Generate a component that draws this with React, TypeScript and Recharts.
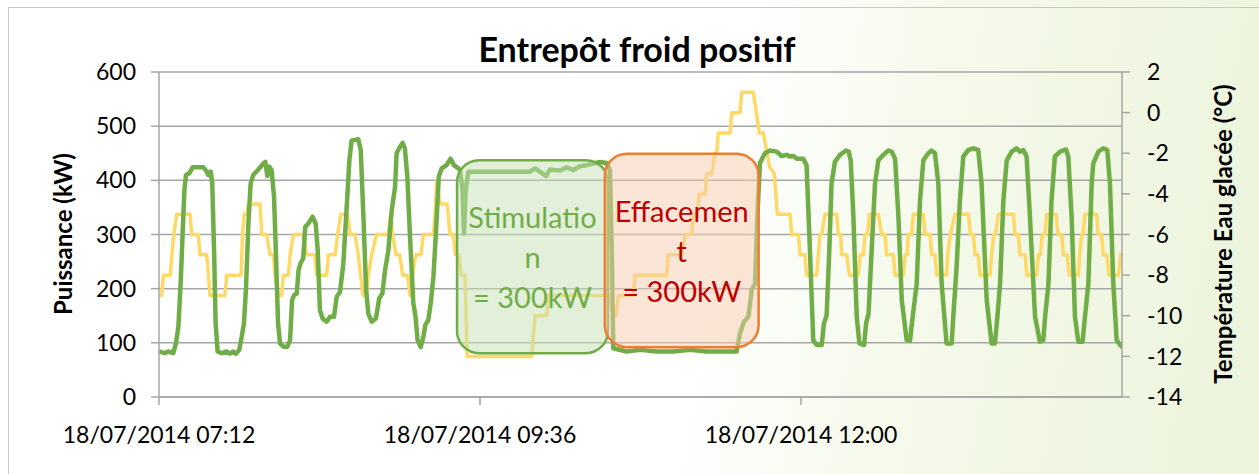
import { LineChart, Line, XAxis, YAxis, CartesianGrid, ReferenceArea } from 'recharts';

// x = minutes since 18/07/2014 07:12
const xTicks = [0, 144, 288];
const xTickLabels = ['18/07/2014 07:12', '18/07/2014 09:36', '18/07/2014 12:00'];
const puissanceTicks = [0, 100, 200, 300, 400, 500, 600];
const temperatureTicks = [-14, -12, -10, -8, -6, -4, -2, 0, 2];

// Puissance (kW)
const puissance: [number, number][] = [
  [0, 84], [2.7, 81], [4.2, 84], [6.4, 81], [7.6, 99], [8.7, 130], [9.7, 209], [10.6, 302], [11.4, 382],
  [12.1, 410], [13.6, 413], [15.1, 424], [19.9, 424], [21.1, 418], [22.1, 410], [23.2, 416], [23.9, 394],
  [24.7, 271], [25.4, 136], [26.3, 84], [28.1, 81], [30.3, 84], [31.8, 80], [33.3, 84], [34.5, 80],
  [36.0, 87], [37.1, 111], [38.1, 136], [39.0, 198], [40.1, 320], [41.1, 394], [42.3, 410], [44.6, 420],
  [46.8, 431], [47.7, 434], [48.6, 408], [49.5, 425], [50.5, 419], [51.6, 370], [52.5, 259], [53.4, 136],
  [54.3, 99], [55.8, 93], [57.6, 93], [58.8, 105], [59.7, 179], [60.6, 188], [61.8, 191], [62.6, 234],
  [63.5, 247], [64.7, 256], [65.6, 314], [67.0, 320], [68.9, 333], [70.3, 320], [71.2, 271], [72.2, 160],
  [73.4, 145], [75.2, 139], [76.7, 148], [78.5, 148], [79.7, 185], [81.2, 194], [82.7, 247], [84.2, 351],
  [85.4, 437], [86.4, 473], [89.4, 476], [90.5, 456], [91.7, 333], [92.9, 198], [93.9, 154], [95.4, 139],
  [97.3, 145], [98.8, 182], [100.2, 191], [101.4, 234], [102.9, 271], [104.4, 345], [105.9, 388],
  [106.6, 450], [108.1, 462], [109.3, 469], [110.3, 459], [111.4, 407], [112.6, 296], [114.1, 173],
  [115.1, 148], [116.0, 105], [117.4, 92], [118.6, 111], [119.5, 133], [120.8, 142], [121.9, 173],
  [123.1, 222], [124.3, 308], [125.5, 407], [126.8, 422], [129.0, 428], [130.8, 440], [132.3, 428],
  [134.3, 422], [135.0, 419], [136.2, 382], [136.8, 302], [137.6, 382], [138.8, 416], [166.4, 416],
  [168.7, 422], [170.9, 416], [173.6, 408], [175.4, 420], [179.9, 418], [182.9, 424], [185.9, 419],
  [188.9, 426], [191.9, 428], [194.8, 431], [197.8, 434], [200.8, 432], [202.3, 419], [203.1, 271],
  [203.8, 90], [209.8, 84], [215.8, 87], [223.3, 84], [230.7, 84], [238.2, 87], [245.7, 84], [259.1, 84],
  [260.6, 117], [262.4, 139], [264.4, 148], [265.9, 198], [267.4, 209], [268.4, 333], [269.6, 432],
  [271.8, 450], [274.1, 455], [277.1, 453], [279.3, 445], [281.6, 447], [283.1, 444], [284.6, 445],
  [286.0, 440], [289.0, 440], [290.5, 428], [292.0, 271], [293.5, 105], [295.0, 96], [297.3, 96],
  [298.3, 136], [299.5, 151], [300.7, 271], [301.7, 394], [303.2, 434], [305.5, 447], [308.2, 455],
  [309.4, 453], [310.3, 437], [311.5, 333], [313.0, 148], [314.2, 99], [316.3, 96], [317.2, 136],
  [318.3, 154], [319.7, 271], [321.2, 394], [322.7, 437], [324.9, 447], [327.2, 455], [328.7, 453],
  [330.2, 440], [331.7, 333], [333.2, 179], [335.4, 105], [336.9, 104], [338.1, 148], [339.9, 209],
  [341.4, 364], [342.9, 437], [345.1, 450], [346.6, 455], [348.1, 450], [349.6, 394], [351.1, 209],
  [353.3, 99], [355.6, 99], [356.3, 148], [357.8, 240], [359.3, 364], [360.8, 444], [363.1, 456],
  [365.3, 459], [367.5, 456], [369.0, 394], [371.3, 179], [373.5, 99], [375.0, 99], [376.1, 148],
  [377.3, 209], [378.8, 364], [380.3, 437], [382.5, 453], [384.7, 459], [386.2, 453], [387.7, 456],
  [389.2, 444], [390.7, 333], [393.0, 148], [395.2, 102], [396.7, 105], [397.5, 148], [399.0, 209],
  [400.4, 364], [401.9, 444], [404.2, 453], [406.9, 457], [407.9, 444], [409.4, 333], [410.9, 148],
  [412.4, 102], [414.3, 102], [415.4, 148], [416.9, 209], [418.4, 394], [419.1, 431], [421.4, 453],
  [423.6, 459], [425.4, 456], [426.6, 394], [428.1, 209], [429.6, 105], [431.8, 93], [432, 96],
];

// Température eau glacée (°C)
const temperature: [number, number][] = [
  [0, -9], [1.2, -9], [1.95, -8], [5.0, -8], [5.8, -7], [6.6, -6], [8.0, -5], [13.9, -5], [14.7, -6],
  [17.6, -6], [18.4, -7], [21.4, -7], [22.9, -9], [29.6, -9], [30.4, -8], [36.8, -8], [37.5, -6],
  [38.2, -5], [39.3, -5], [40.1, -4.5], [45.3, -4.5], [46.1, -6], [48.3, -6], [49.8, -7], [51.3, -7],
  [52.0, -8], [53.5, -9], [55.0, -9], [55.8, -8], [58.0, -8], [58.8, -7], [60.3, -6], [64.7, -6],
  [66.3, -7], [70.0, -7], [70.7, -8], [75.2, -8], [76.0, -7], [79.0, -7], [80.1, -6], [81.6, -5],
  [84.6, -5], [85.7, -6], [87.9, -6], [89.4, -7], [90.4, -8], [91.6, -9], [93.2, -9], [93.9, -8],
  [95.4, -7], [97.6, -6], [102.9, -6], [103.9, -5], [104.8, -6], [106.3, -7], [108.0, -7], [109.3, -8],
  [111.5, -8], [112.6, -9], [113.8, -8], [115.2, -7], [117.5, -7], [118.6, -6], [123.1, -6], [123.8, -5],
  [124.6, -3.4], [126.1, -4.5], [129.3, -4.5], [130.5, -6], [132.0, -6], [133.0, -7], [134.5, -7],
  [135.5, -8], [137.3, -8], [138.2, -12], [167.2, -12], [168.7, -10], [173.9, -10], [174.7, -9],
  [202.3, -9], [203.8, -10], [205.0, -10], [206.1, -9], [212.8, -9], [213.5, -8], [227.7, -8],
  [228.5, -7], [234.5, -7], [236.0, -6], [239.0, -6], [239.7, -5], [241.3, -5], [242.4, -4], [245.0, -4],
  [245.7, -3], [248.0, -3], [249.4, -2], [250.2, -2], [250.9, -1], [256.2, -1], [256.9, 0], [260.6, 0],
  [261.4, 1], [266.6, 1], [269.3, -1], [271.1, -1], [274.0, -2.7], [276.0, -3], [277.4, -5], [283.1, -5],
  [283.8, -6], [286.8, -6], [287.6, -7], [289.8, -7], [290.5, -8], [295.0, -8], [295.8, -7], [296.5, -6],
  [297.3, -6], [298.8, -5], [304.0, -5], [304.7, -6], [305.8, -6], [306.2, -7], [308.5, -7], [309.7, -8],
  [313.7, -8], [314.5, -7], [316.0, -7], [316.7, -6], [317.8, -6], [318.7, -5], [322.7, -5], [324.2, -6],
  [325.7, -6], [326.4, -7], [329.4, -7], [330.2, -8], [333.9, -8], [334.7, -7], [335.7, -7], [336.1, -6],
  [337.6, -6], [338.4, -5], [342.9, -5], [343.6, -6], [345.9, -6], [346.6, -7], [348.1, -7], [348.9, -8],
  [353.3, -8], [353.8, -7], [355.0, -6], [357.1, -5], [363.1, -5], [364.0, -6], [365.3, -6], [366.1, -7],
  [367.5, -7], [368.3, -8], [372.8, -8], [373.5, -7], [374.5, -6], [375.3, -6], [376.5, -5], [383.3, -5],
  [384.0, -6], [385.5, -6], [386.2, -7], [388.5, -7], [389.3, -8], [393.7, -8], [394.5, -7], [395.4, -7],
  [396.2, -6], [397.5, -6], [398.2, -5], [402.4, -5], [403.3, -6], [404.9, -6], [405.7, -7], [407.4, -7],
  [408.4, -8], [412.4, -8], [413.0, -7], [413.9, -6], [414.5, -6], [415.4, -5], [420.6, -5], [421.3, -6],
  [422.8, -6], [423.6, -7], [425.2, -7], [426.2, -8], [430.4, -8], [431.4, -7], [432, -7],
];

// annotation boxes, in data units (minutes, kW)
const stimulation = { x1: 133.7, x2: 201.4, y1: 81, y2: 437, lines: ['Stimulatio', 'n', '= 300kW'] };
const effacement = { x1: 200, x2: 269, y1: 92, y2: 449, lines: ['Effacemen', 't', '= 300kW'] };

const puissanceData = puissance.map(([t, kw]) => ({ t, kw }));
const temperatureData = temperature.map(([t, c]) => ({ t, c }));

const FONT = 'Lato, "Open Sans", sans-serif';
const GRID = '#a6a6a6';

function AnnotationBox(props: any) {
  const { x, y, width, height, lines, fill, stroke, textColor } = props;
  const cx = x + width / 2;
  const cy = y + height / 2;
  return (
    <g>
      <rect x={x} y={y} width={width} height={height} rx={22} ry={22}
        fill={fill} fillOpacity={0.5} stroke={stroke} strokeWidth={2.5} />
      {lines.map((l: string, i: number) => (
        <text key={i} x={cx} y={cy + (i - 1) * 40} textAnchor="middle" dominantBaseline="central"
          fill={textColor} fontSize={29} fontFamily={FONT}>{l}</text>
      ))}
    </g>
  );
}

function AxisTitle({ viewBox, text, dx }: any) {
  if (!viewBox) return null;
  const x = viewBox.x + dx;
  const y = 234;
  return (
    <text x={x} y={y} transform={`rotate(-90, ${x}, ${y})`} textAnchor="middle" dominantBaseline="central"
      fontSize={24} fontWeight="bold" fontFamily={FONT} fill="#000">{text}</text>
  );
}

export default function App() {
  return (
    <div style={{
      position: 'absolute', left: 0, top: 0, width: 1259, height: 474, overflow: 'hidden',
      background: 'linear-gradient(100deg, #ffffff 0%, #ffffff 56%, #f7fbef 68%, #f1f7e4 82%, #ecf4dc 100%)',
      fontFamily: FONT,
    }}>
      <div style={{ position: 'absolute', left: 8, top: 7, right: -2, bottom: -2, borderLeft: '1px solid #c8c8c8', borderTop: '1px solid #c8c8c8' }} />
      <div style={{ position: 'absolute', left: 0, width: 1274, top: 28, textAlign: 'center', fontSize: 34, fontWeight: 'bold', color: '#000' }}>
        Entrepôt froid positif
      </div>
      <div style={{ position: 'absolute', left: 0, top: 0 }}>
        <LineChart width={1259} height={474} margin={{ top: 72, right: 0, bottom: 0, left: 0 }}>
          <CartesianGrid yAxisId="left" vertical={false} stroke={GRID} strokeWidth={1.5} />
          <XAxis dataKey="t" type="number" domain={[0, 432]} ticks={xTicks} allowDataOverflow
            tickFormatter={(v: number) => xTickLabels[xTicks.indexOf(v)] ?? ''}
            height={77} stroke={GRID} strokeWidth={1.5} tickSize={8} tickMargin={22}
            tick={{ fill: '#000', fontSize: 23, fontFamily: FONT }} />
          <YAxis yAxisId="left" orientation="left" domain={[0, 600]} ticks={puissanceTicks} width={159}
            stroke={GRID} strokeWidth={1.5} tickSize={8} tickMargin={15} interval={0}
            tick={{ fill: '#000', fontSize: 23, fontFamily: FONT }}
            label={(p: any) => <AxisTitle {...p} text="Puissance (kW)" dx={62} />} />
          <YAxis yAxisId="right" orientation="right" domain={[-14, 2]} ticks={temperatureTicks} width={137}
            stroke={GRID} strokeWidth={1.5} tickSize={8} tickMargin={17} interval={0}
            tick={{ fill: '#000', fontSize: 23, fontFamily: FONT, textAnchor: 'start' }}
            label={(p: any) => <AxisTitle {...p} text="Température Eau glacée (°C)" dx={100} />} />
          <Line yAxisId="right" data={temperatureData} dataKey="c" type="linear" stroke="#FFD966"
            strokeWidth={3.5} dot={false} activeDot={false} isAnimationActive={false} strokeLinejoin="round" />
          <Line yAxisId="left" data={puissanceData} dataKey="kw" type="linear" stroke="#70AD47"
            strokeWidth={4.5} dot={false} activeDot={false} isAnimationActive={false} strokeLinejoin="round" />
          <ReferenceArea yAxisId="left" x1={stimulation.x1} x2={stimulation.x2} y1={stimulation.y1} y2={stimulation.y2}
            ifOverflow="visible" zIndex={900}
            shape={(p: any) => <AnnotationBox {...p} lines={stimulation.lines} fill="#C5E0B4" stroke="#70AD47" textColor="#70AD47" />} />
          <ReferenceArea yAxisId="left" x1={effacement.x1} x2={effacement.x2} y1={effacement.y1} y2={effacement.y2}
            ifOverflow="visible" zIndex={900}
            shape={(p: any) => <AnnotationBox {...p} lines={effacement.lines} fill="#F8CBAD" stroke="#ED7D31" textColor="#C00000" />} />
        </LineChart>
      </div>
    </div>
  );
}
